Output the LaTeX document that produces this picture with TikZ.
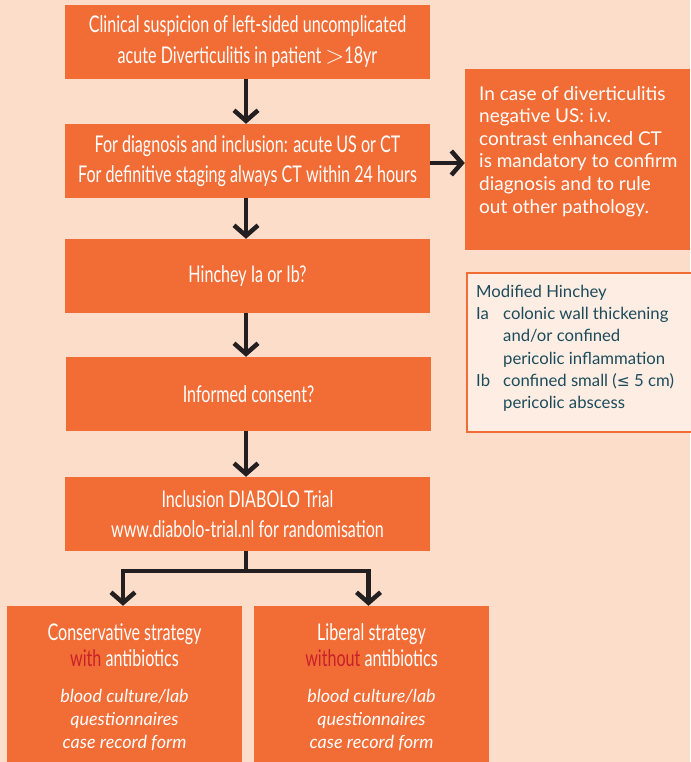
\documentclass[tikz,border=0pt]{standalone}
\usepackage{fontspec}
\setmainfont{Lato}
\newfontfamily\condfont[FakeStretch=0.70]{Lato}
\newfontfamily\symfont{DejaVu Sans}
\usetikzlibrary{arrows.meta}
\definecolor{bgc}{HTML}{FCDDCA}
\definecolor{org}{HTML}{F26D36}
\definecolor{legfill}{HTML}{FDEDE3}
\definecolor{tealtxt}{HTML}{1D4B5B}
\definecolor{redtxt}{HTML}{C8202A}
\definecolor{arr}{HTML}{231F20}
\begin{document}
\begin{tikzpicture}[x=1pt,y=-1pt,
  flowbox/.style={fill=org, text=white, minimum width=365pt, minimum height=74pt, inner sep=0pt, align=center, font=\condfont\fontsize{23}{30}\selectfont},
  stratbox/.style={fill=org, minimum width=235pt, minimum height=156pt, inner sep=0pt},
  strattitle/.style={text=white, inner sep=0pt, align=center, font=\condfont\fontsize{23}{26}\selectfont},
  stratitem/.style={text=white, inner sep=0pt, align=center, font=\itshape\fontsize{18}{23}\selectfont},
  conn/.style={draw=arr, line width=4.5pt, line join=miter, -{Straight Barb[length=10.5pt,width=24pt]}}
]
\fill[bgc] (0,0) rectangle (690,762);
\useasboundingbox (0,0) rectangle (690,762);

\node[flowbox] (b1) at (247.5,42) {Clinical suspicion of left-sided uncomplicated\\[1pt]acute Diverticulitis in patient $>$18yr};
\node[flowbox] (b2) at (247.5,161) {For diagnosis and inclusion: acute US or CT\\For definitive staging always CT within 24 hours};
\node[flowbox] (b3) at (247.5,276) {Hinchey Ia or Ib?};
\node[flowbox] (b4) at (248.5,394) {Informed consent?};
\node[flowbox] (b5) at (247.5,514) {Inclusion DIABOLO Trial\\www.diabolo-trial.nl for randomisation};

\node[fill=org, minimum width=225pt, minimum height=181pt, inner sep=0pt] (side) at (577.5,159.5) {};
\node[anchor=north west, inner sep=0pt, text=white, align=left, font=\fontsize{19}{22.6}\selectfont] (sidetxt) at (479,86)
 {In case of diverticulitis\\negative US: i.v.\\contrast enhanced CT\\is mandatory to confirm\\diagnosis and to rule\\out other pathology.};

\node[draw=org, line width=2pt, fill=legfill, minimum width=225pt, minimum height=159pt, inner sep=0pt] (legend) at (579.5,352.5) {};
\node[anchor=north west, inner sep=0pt, text=tealtxt, align=left, font=\fontsize{16.7}{22.2}\selectfont] (legtxt) at (476,285)
 {Modified Hinchey\\
  \makebox[27pt][l]{Ia}colonic wall thickening\\
  \hspace*{27pt}and/or confined\\
  \hspace*{27pt}pericolic inflammation\\
  \makebox[27pt][l]{Ib}confined small ({\symfont\fontsize{15.5}{22.2}\selectfont ≤} 5 cm)\\
  \hspace*{27pt}pericolic abscess};

\node[stratbox] (s1) at (124.5,684) {};
\node[stratbox] (s2) at (371.5,684) {};
\node[strattitle] (s1t) at (124.5,645) {Conservative strategy\\{\color{redtxt}with} antibiotics};
\node[strattitle] (s2t) at (371.5,645) {Liberal strategy\\{\color{redtxt}without} antibiotics};
\node[stratitem] (s1i) at (124.5,720) {blood culture/lab\\questionnaires\\case record form};
\node[stratitem] (s2i) at (371.5,720) {blood culture/lab\\questionnaires\\case record form};

\draw[conn] ([xshift=-1.5pt]b1.south) -- ([xshift=-1.5pt]b2.north);
\draw[conn] ([xshift=-1.5pt]b2.south) -- ([xshift=-1.5pt]b3.north);
\draw[conn] ([xshift=-1.5pt]b3.south) -- ([xshift=-2.5pt]b4.north);
\draw[conn] ([xshift=-2.5pt]b4.south) -- ([xshift=-1.5pt]b5.north);
\draw[conn] ([yshift=-2pt]b2.east) -- ([yshift=-2pt]side.west |- b2.east);
\coordinate (split) at ([xshift=-1.5pt,yshift=-20pt]b5.south);
\draw[draw=arr, line width=4.5pt] ([xshift=-1.5pt]b5.south) -- (split);
\draw[conn] (split) -| ([xshift=-1.5pt]s1.north);
\draw[conn] (split) -| ([xshift=-3pt]s2.north);
\end{tikzpicture}
\end{document}
